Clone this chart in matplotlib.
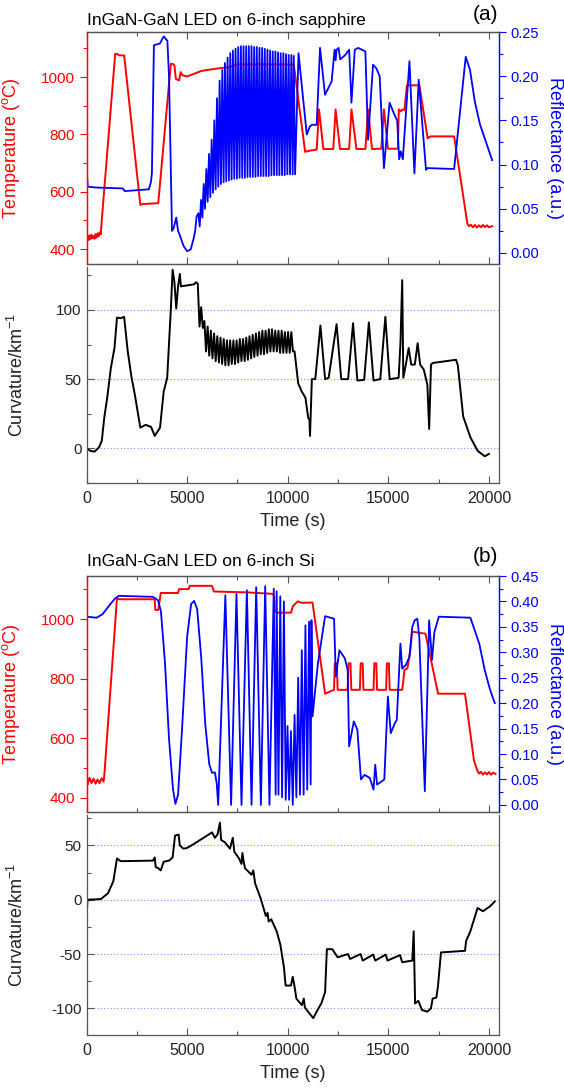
import numpy as np
import matplotlib
matplotlib.use("Agg")
import matplotlib.pyplot as plt
from matplotlib.ticker import MultipleLocator, FormatStrFormatter

plt.rcParams['font.family'] = ['Liberation Sans', 'DejaVu Sans']
plt.rcParams['mathtext.fontset'] = 'custom'
plt.rcParams['mathtext.rm'] = 'Liberation Sans'
plt.rcParams['mathtext.it'] = 'Liberation Sans:italic'
plt.rcParams['axes.unicode_minus'] = False

# ---------------- Panel (a): sapphire ----------------
a_temp_t = [0, 40, 80, 120, 160, 200, 250, 300, 350, 400, 450, 500, 550, 600, 650, 713,
            760, 1426, 1520, 1600, 1872, 2675, 2800, 3566, 4190, 4280, 4370, 4440, 4600,
            4680, 4770, 5000, 5700, 6420, 7130, 7500, 10300, 10866, 11000, 11440,
            11556, 11770, 12264, 12378, 12600, 13053, 13168, 13415, 13860, 13993, 14190,
            14650, 14782, 14980, 15473, 15522, 15600, 15720, 15800, 15924, 16543, 16955,
            17100, 18270, 18930, 19000, 19100, 19200, 19300, 19400, 19500, 19600, 19700,
            19800, 19900, 20000, 20160]
a_temp_v = [440, 430, 445, 432, 448, 435, 450, 438, 445, 436, 452, 440, 455, 445, 458, 452,
            502, 1081, 1080, 1076, 1075, 554, 557, 560, 1046, 1046, 1040, 994, 988,
            1017, 1006, 1002, 1021, 1029, 1035, 1044, 1044, 739, 742, 747,
            887, 749, 749, 887, 749, 749, 887, 749, 749, 887, 749,
            750, 887, 750, 750, 887, 880, 887, 885, 971, 971, 786,
            793, 793, 488, 480, 485, 476, 484, 475, 483, 476, 484,
            477, 483, 476, 480]

a_refl_pre_t = [0, 30, 60, 500, 1800, 1900, 2500, 3100, 3200, 3250, 3350, 3650, 3840, 4020,
                4100, 4250, 4330, 4460, 4550, 4640, 4820, 5000, 5180, 5320, 5400, 5470]
a_refl_pre_v = [0.082, 0.087, 0.075, 0.074, 0.073, 0.070, 0.071, 0.072, 0.080, 0.090, 0.235,
                0.237, 0.245, 0.240, 0.200, 0.025, 0.028, 0.040, 0.025, 0.020, 0.008, 0.002,
                0.004, 0.016, 0.025, 0.041]
a_osc_peak_t = [5560, 5692, 5824, 5956, 6088, 6220, 6352, 6484, 6616, 6748, 6880, 7012, 7144,
                7276, 7408, 7540, 7672, 7804, 7936, 8068, 8200, 8332, 8464, 8596, 8728, 8860,
                8992, 9124, 9256, 9388, 9520, 9652, 9784, 9916, 10048, 10180, 10300]
a_osc_peak_v = [0.045, 0.060, 0.078, 0.095, 0.112, 0.128, 0.150, 0.175, 0.195, 0.207, 0.215,
                0.221, 0.226, 0.229, 0.231, 0.233, 0.234, 0.234, 0.234, 0.234, 0.234, 0.233,
                0.233, 0.232, 0.232, 0.231, 0.230, 0.229, 0.228, 0.228, 0.227, 0.226, 0.226,
                0.225, 0.224, 0.224, 0.223]
a_osc_trough_t = [5626, 5758, 5890, 6022, 6154, 6286, 6418, 6550, 6682, 6814, 6946, 7078, 7210,
                  7342, 7474, 7606, 7738, 7870, 8002, 8134, 8266, 8398, 8530, 8662, 8794, 8926,
                  9058, 9190, 9322, 9454, 9586, 9718, 9850, 9982, 10114, 10246, 10366]
a_osc_trough_v = [0.030, 0.040, 0.050, 0.058, 0.063, 0.068, 0.072, 0.075, 0.078, 0.080, 0.081,
                  0.082, 0.083, 0.084, 0.084, 0.085, 0.085, 0.085, 0.086, 0.086, 0.086, 0.086,
                  0.087, 0.087, 0.087, 0.087, 0.087, 0.088, 0.088, 0.088, 0.088, 0.088, 0.088,
                  0.089, 0.089, 0.089, 0.089]
a_refl_post_t = [10536, 10947, 11100, 11200, 11440, 11606, 11853, 12181, 12330, 12380, 12430,
                 12527, 12610, 12860, 13053, 13168, 13333, 13500, 13860, 13993, 14240, 14400,
                 14570, 14782, 15062, 15309, 15440, 15540, 15620, 15720, 16050, 16296, 16510,
                 16872, 16950, 18270, 18846, 19060, 19300, 19560, 19890, 20160]
a_refl_post_v = [0.226, 0.134, 0.143, 0.145, 0.145, 0.232, 0.179, 0.194, 0.230, 0.218, 0.230,
                 0.232, 0.219, 0.224, 0.230, 0.170, 0.230, 0.232, 0.228, 0.128, 0.213, 0.209,
                 0.200, 0.096, 0.170, 0.156, 0.150, 0.106, 0.115, 0.106, 0.217, 0.090, 0.196,
                 0.094, 0.096, 0.095, 0.222, 0.207, 0.171, 0.145, 0.123, 0.105]

a_curv_pre_t = [0, 180, 390, 620, 760, 890, 1030, 1210, 1390, 1515, 1690, 1870, 2050, 2230,
                2400, 2675, 2940, 3210, 3390, 3655, 3835, 4010, 4190, 4280, 4370, 4460, 4550,
                4640, 4690, 5350, 5440, 5530, 5617, 5700, 5780]
a_curv_pre_v = [0, -1.7, -2.4, 0.7, 5.5, 23, 36.6, 58, 72.5, 94.5, 94, 95, 70, 52,
                39, 15, 17, 15.5, 9, 15, 41, 51, 100, 129, 120, 101, 117,
                126, 117, 118.5, 120, 119, 88, 102, 87]
a_cosc_peak_t = [5860, 6020, 6180, 6340, 6500, 6660, 6820, 6980, 7140, 7300, 7460, 7620, 7780,
                 7940, 8100, 8260, 8420, 8580, 8740, 8900, 9060, 9220, 9380, 9540, 9700, 9860,
                 10020, 10180]
a_cosc_peak_v = [92, 88, 85, 83, 81, 80, 79, 78, 78, 78, 78, 79, 79, 80, 81, 82, 83, 84, 85, 85,
                 86, 86, 85, 85, 85, 84, 84, 84]
a_cosc_trough_t = [5940, 6100, 6260, 6420, 6580, 6740, 6900, 7060, 7220, 7380, 7540, 7700, 7860,
                   8020, 8180, 8340, 8500, 8660, 8820, 8980, 9140, 9300, 9460, 9620, 9780, 9940,
                   10100, 10260]
a_cosc_trough_v = [70, 67, 65, 63, 62, 61, 60, 60, 61, 61, 62, 63, 63, 64, 65, 66, 67, 68, 68,
                   69, 70, 70, 70, 69, 69, 69, 69, 70]
a_curv_post_t = [10340, 10520, 10700, 10880, 11019, 11080, 11108, 11200, 11370, 11625, 11857,
                 12035, 12428, 12660, 13000, 13248, 13460, 13800, 14032, 14264, 14600, 14852,
                 15066, 15512, 15600, 15690, 15744, 15870, 16011, 16136, 16315, 16457, 16582,
                 16760, 16940, 17030, 17120, 17210, 18365, 18455, 18720, 19080, 19435, 19790,
                 20000]
a_curv_post_v = [70, 47, 41, 36.6, 22, 21, 9, 50, 50, 88.7, 50,
                 51, 89.7, 50, 50, 90.4, 49, 49.5, 91, 49, 50, 95,
                 50, 51, 75, 121.5, 51, 60.5, 72.5, 60.5, 60.5, 76, 60.5,
                 57, 46, 14, 60.5, 61.7, 64, 60, 23, 8, -1.7, -5.7,
                 -4]

# ---------------- Panel (b): Si ----------------
b_temp_t = [0, 50, 150, 250, 350, 450, 550, 650, 750, 850, 890, 1515, 1600, 3388, 3420, 3566,
            3690, 4547, 4600, 5080, 5135, 6240, 6330, 8000, 9272, 9330, 9360, 9500, 10163,
            10250, 10500, 10700, 11233, 11857, 12300, 12340, 12440, 12480,
            12980, 13020, 13120, 13160, 13586, 13626, 13725, 13765, 14264, 14304, 14402,
            14442, 14888, 14928, 15026, 15066, 15690, 15740, 15800, 15950, 16100, 16180,
            16800, 16850, 17473, 18810, 19256, 19420, 19500, 19600, 19700, 19800, 19900,
            20000, 20100, 20200, 20326]
b_temp_v = [455, 445, 468, 450, 465, 448, 462, 450, 466, 455, 481, 1071, 1067, 1067, 1031, 1031,
            1088, 1088, 1101, 1101, 1112, 1112, 1093, 1090, 1085, 1076, 1026, 1022, 1022,
            1043, 1060, 1055, 1056, 750, 763, 852, 852, 763,
            763, 852, 852, 763, 763, 852, 852, 763, 763, 852, 852,
            763, 763, 852, 852, 763, 763, 790, 830, 835, 900, 958,
            952, 950, 750, 750, 526, 492, 482, 488, 478, 486, 479,
            487, 478, 485, 481]

b_refl_t = [0, 500, 800, 1070, 1400, 1600, 3300, 3560, 3700, 3900, 4100, 4300, 4420, 4550,
            4750, 5000, 5200, 5350, 5500, 5700, 5900, 6100, 6240, 6380, 6470, 6544,
            6900, 7186, 7453, 7703, 7970, 8202, 8434, 8666, 8880, 9093, 9307, 9400, 9450,
            9540, 9630, 9720, 9810, 9900, 9990, 10070, 10160, 10250, 10340, 10430, 10520,
            10610, 10700, 10790, 10880, 10970, 11060, 11140, 11180, 11233, 11500, 11857,
            12303, 12390, 12570, 12840, 12980, 13051, 13283, 13460, 13640, 13820, 14080,
            14264, 14350, 14440, 14800, 14977, 15120, 15330, 15420, 15601, 15690, 15870,
            16050, 16190, 16310, 16440, 16540, 16814, 17027, 17170, 17290, 17509, 19078,
            19520, 19790, 20060, 20290]
b_refl_v = [0.370, 0.368, 0.375, 0.389, 0.405, 0.411, 0.409, 0.402, 0.380, 0.280, 0.130, 0.030,
            0.002, 0.020, 0.150, 0.330, 0.395, 0.401, 0.385, 0.290, 0.160, 0.080, 0.063, 0.064,
            0.043, 0.000,
            0.412, 0.000, 0.415, 0.000, 0.422, 0.000, 0.428, 0.000, 0.430, 0.000, 0.425, 0.020,
            0.420, 0.020, 0.410, 0.015, 0.400, 0.010, 0.155, 0.010, 0.145, 0.000, 0.177, 0.015,
            0.250, 0.020, 0.304, 0.020, 0.353, 0.030, 0.360, 0.040, 0.363, 0.174, 0.278, 0.371,
            0.366, 0.252, 0.304, 0.288, 0.265, 0.115, 0.164, 0.148, 0.050, 0.059, 0.053,
            0.030, 0.079, 0.040, 0.050, 0.213, 0.141, 0.161, 0.167, 0.317, 0.268, 0.275,
            0.291, 0.350, 0.363, 0.366, 0.330, 0.027, 0.363, 0.285, 0.340, 0.370, 0.368,
            0.317, 0.265, 0.226, 0.200]

b_curv_t = [0, 50, 713, 1070, 1333, 1515, 1700, 3300, 3390, 3440, 3570, 3690, 3835, 4100, 4280,
            4400, 4580, 4636, 4815, 4990, 5350, 6240, 6380, 6510, 6630, 6690, 6870, 7130, 7270,
            7350, 7580, 7700, 7750, 7810, 7880, 8200, 8290, 8380, 8650, 8915, 9000, 9050, 9180,
            9450, 9630, 9810, 9896, 10160, 10250, 10340, 10430, 10700, 10800, 10850, 10965,
            11269, 11410, 11680, 11857,
            11946, 12214, 12481, 12998, 13100, 13620, 13730, 14245, 14350, 14870, 14960,
            15580, 15690, 16190, 16261, 16330, 16490, 16670, 16940, 17120, 17200, 17390,
            17470, 17616, 18810, 18865, 19078, 19435, 19700, 20060, 20290]
b_curv_v = [-17, 0, 0.6, 6, 17, 38, 35.5, 36, 39, 30, 29, 27, 35, 36, 39,
            59, 60, 50, 47, 47.6, 51.5, 62, 57, 60, 71, 55, 53, 47, 57,
            44, 38, 33, 43, 35, 29, 23, 27, 15, 1.5, -15, -12, -20, -18,
            -29, -41, -62, -79, -79, -71, -80, -91, -97, -91, -99, -102,
            -109, -104, -95, -85,
            -45.5, -45.5, -53, -50, -54.5, -50, -56, -50.5, -56, -50.5, -56,
            -51, -57.5, -56, -29, -95.5, -93, -101.5, -103, -100, -91, -90,
            -79, -48.5, -47, -38, -29, -7.6, -10.6, -6, -1.5]

x_ticks = [0, 5000, 10000, 15000, 20000]
titles = ["InGaN-GaN LED on 6-inch sapphire", "InGaN-GaN LED on 6-inch Si"]
panel_tags = ["(a)", "(b)"]


def interleave(pt, pv, tt, tv):
    t = np.column_stack([pt, tt]).ravel()
    v = np.column_stack([pv, tv]).ravel()
    return t, v


osc_t, osc_v = interleave(a_osc_peak_t, a_osc_peak_v, a_osc_trough_t, a_osc_trough_v)
a_refl_t = np.concatenate([a_refl_pre_t, osc_t, a_refl_post_t])
a_refl_v = np.concatenate([a_refl_pre_v, osc_v, a_refl_post_v])
cosc_t, cosc_v = interleave(a_cosc_peak_t, a_cosc_peak_v, a_cosc_trough_t, a_cosc_trough_v)
a_curv_t = np.concatenate([a_curv_pre_t, cosc_t, a_curv_post_t])
a_curv_v = np.concatenate([a_curv_pre_v, cosc_v, a_curv_post_v])

RED = '#ff0000'
BLUE = '#0000ff'
GRAY = '#555555'

fig = plt.figure(figsize=(5.64, 10.88), dpi=100)
W, H = 564.0, 1088.0
L = 86.5 / W
WID = (499 - 86.5) / W


def box(top, bottom):
    return [L, 1 - bottom / H, WID, (bottom - top) / H]


panels = [
    dict(top=box(32, 264), cur=box(267, 483), temp=(a_temp_t, a_temp_v),
         refl=(a_refl_t, a_refl_v), curv=(a_curv_t, a_curv_v), tlim=(348, 1157),
         rlim=(-0.0125, 0.25), rmax=0.25, clim=(-25, 131), cticks=[0, 50, 100],
         title_y=20, tag_y=15, xlab_y=522),
    dict(top=box(576, 812), cur=box(815, 1035), temp=(b_temp_t, b_temp_v),
         refl=(b_refl_t, b_refl_v), curv=(b_curv_t, b_curv_v), tlim=(353, 1145),
         rlim=(-0.014, 0.45), rmax=0.45, clim=(-124.5, 78), cticks=[-100, -50, 0, 50],
         title_y=561, tag_y=557, xlab_y=1074),
]

for i, p in enumerate(panels):
    ax = fig.add_axes(p['top'])
    ax2 = ax.twinx()
    ax.plot(p['temp'][0], p['temp'][1], color=RED, lw=1.4)
    ax2.plot(p['refl'][0], p['refl'][1], color=BLUE, lw=1.3)
    ax.set_xlim(0, 20500)
    ax.set_ylim(*p['tlim'])
    ax2.set_ylim(*p['rlim'])
    ax.set_yticks([400, 600, 800, 1000])
    ax.yaxis.set_minor_locator(MultipleLocator(100))
    ax2.set_yticks(np.arange(0, p['rmax'] + 0.001, 0.05))
    ax2.yaxis.set_minor_locator(MultipleLocator(0.025))
    ax2.yaxis.set_major_formatter(FormatStrFormatter('%.2f'))
    ax.set_xticks(x_ticks)
    ax.xaxis.set_minor_locator(MultipleLocator(2500))
    ax.tick_params(axis='x', which='both', direction='in', top=True, bottom=True,
                   labelbottom=False, color=GRAY, width=0.8)
    ax.tick_params(axis='x', which='major', length=5)
    ax.tick_params(axis='x', which='minor', length=3)
    ax.tick_params(axis='y', which='both', direction='out', colors=RED, labelsize=11, width=0.8)
    ax.tick_params(axis='y', which='major', length=5)
    ax.tick_params(axis='y', which='minor', length=3)
    ax2.tick_params(axis='y', which='both', direction='out', colors=BLUE, labelsize=10.5, width=0.8)
    ax2.tick_params(axis='y', which='major', length=5)
    ax2.tick_params(axis='y', which='minor', length=3)
    for a in (ax, ax2):
        a.spines['left'].set_color(RED)
        a.spines['right'].set_color(BLUE)
        a.spines['top'].set_color(GRAY)
        a.spines['bottom'].set_color(GRAY)
        for s in a.spines.values():
            s.set_linewidth(0.9)
    ax.set_ylabel(r'Temperature ($^{\rm o}$C)', color=RED, fontsize=13)
    ax.yaxis.set_label_coords(-0.156, 0.5)
    ax2.set_ylabel('Reflectance (a.u.)', color=BLUE, fontsize=13, rotation=270, va='center')
    ax2.yaxis.set_label_coords(1.135, 0.5)

    fig.text(87 / W, 1 - p['title_y'] / H, titles[i], fontsize=12.5, ha='left', va='center')
    fig.text(498 / W, 1 - p['tag_y'] / H, panel_tags[i], fontsize=15, ha='right', va='center')

    axc = fig.add_axes(p['cur'])
    axc.plot(p['curv'][0], p['curv'][1], color='black', lw=1.4)
    axc.set_xlim(0, 20500)
    axc.set_ylim(*p['clim'])
    axc.set_yticks(p['cticks'])
    axc.yaxis.set_minor_locator(MultipleLocator(25))
    axc.set_xticks(x_ticks)
    axc.xaxis.set_minor_locator(MultipleLocator(2500))
    axc.yaxis.grid(True, which='major', color='#8888ff', linestyle=(0, (1, 2)), linewidth=0.8)
    axc.tick_params(axis='both', which='both', direction='in', color=GRAY, width=0.8,
                    top=False, right=False)
    axc.tick_params(axis='both', which='major', length=5)
    axc.tick_params(axis='both', which='minor', length=3)
    axc.tick_params(axis='y', labelsize=11, labelcolor='#222222')
    axc.tick_params(axis='x', labelsize=11.5, labelcolor='#222222', pad=6)
    axc.spines['top'].set_visible(False)
    for s in ('left', 'right', 'bottom'):
        axc.spines[s].set_color(GRAY)
        axc.spines[s].set_linewidth(0.9)
    axc.set_ylabel(r'Curvature/km$^{-1}$', fontsize=13, color='#222222')
    axc.yaxis.set_label_coords(-0.145, 0.5)
    fig.text(0.5 * (L + L + WID), 1 - p['xlab_y'] / H, 'Time (s)', fontsize=13,
             color='#222222', ha='center', va='center')

fig.savefig('out.png', dpi=100)
